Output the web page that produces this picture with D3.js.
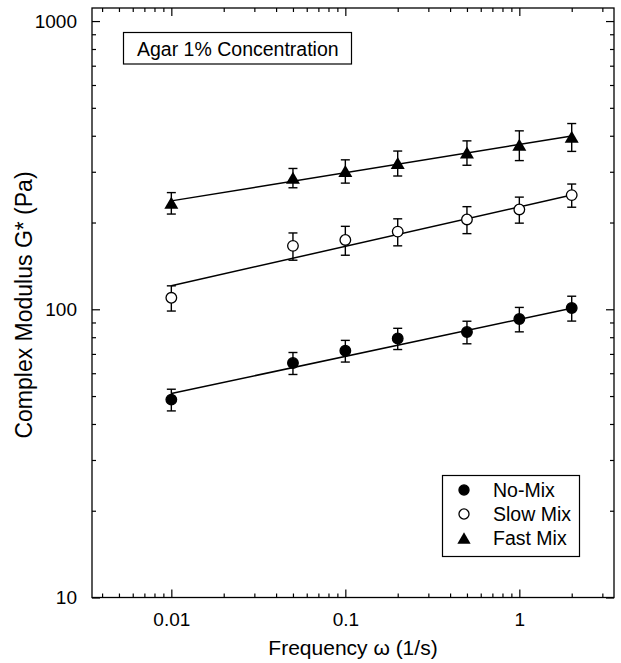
<!DOCTYPE html>
<html lang="en">
<head>
    <meta charset="UTF-8">
    <title>Complex modulus vs frequency</title>
    <script src="https://d3js.org/d3.v7.min.js"></script>
    <style>
        body{ margin:0; background:#fff; }
        svg{ display:block; font-family: "Liberation Sans", Arial, sans-serif; }
    </style>
</head>
<body>
<svg width="621" height="663"></svg>
<script>
    // data
    const freq = [0.01, 0.05, 0.1, 0.2, 0.5, 1, 2];
    const noMix   = [48.6, 65.1, 71.8, 79.2, 83.4, 92.5, 101];
    const noMixErr = [4.2, 5.7, 6.2, 6.7, 7.5, 9, 10];
    const slowMix = [109.6, 166, 174, 186, 205, 222, 249];
    const slowMixErr = [11, 18, 20, 20, 22, 23, 23];
    const fastMix = [234, 286, 302, 322, 350, 372, 397];
    const fastMixErr = [20, 22, 28, 32, 34, 44, 44];
    // power-law fits G* = a * w^n
    const fitA = [92.3, 226.7, 373];
    const fitN = [0.1287, 0.137, 0.0978];
    const fitRange = [0.01, 2];
    const seriesNames = ["No-Mix", "Slow Mix", "Fast Mix"];
    const xTickLabels = ["0.01", "0.1", "1"];
    const yTickLabels = ["10", "100", "1000"];

    const svg = d3.select('svg');
    const m = {left: 92, right: 7, top: 8, bottom: 65.5};
    const W = 621, H = 663;

    const x = d3.scaleLog().domain([0.0035, 3.5]).range([m.left, W - m.right]);
    const y = d3.scaleLog().domain([10, 1110]).range([H - m.bottom, m.top]);

    const series = [
        {name: seriesNames[0], v: noMix, e: noMixErr, sym: 'fill'},
        {name: seriesNames[1], v: slowMix, e: slowMixErr, sym: 'open'},
        {name: seriesNames[2], v: fastMix, e: fastMixErr, sym: 'tri'}
    ];

    // ticks
    const xMajor = [0.01, 0.1, 1];
    const xMinor = [];
    [0.001, 0.01, 0.1, 1].forEach(d => { for (let k = 2; k <= 9; k++) xMinor.push(d * k); });
    const yMajor = [10, 100, 1000];
    const yMinor = [];
    [10, 100].forEach(d => { for (let k = 2; k <= 9; k++) yMinor.push(d * k); });
    const xMin = xMinor.filter(d => d > x.domain()[0] && d < x.domain()[1]);

    const fmt = (labels, vals) => (d => labels[vals.indexOf(d)]);

    function ax(gen, tr, vals, len, labels) {
        const a = gen.tickValues(vals).tickSizeInner(-len).tickSizeOuter(0).tickPadding(len + 7);
        a.tickFormat(labels ? fmt(labels, vals) : () => '');
        const g = svg.append('g').attr('transform', tr).call(a);
        g.select('.domain').remove();
        g.selectAll('line').attr('stroke', '#000').attr('stroke-width', 1.2);
        g.selectAll('text').attr('font-size', 19).attr('fill', '#000').attr('font-family', null);
        return g;
    }
    const trBot = `translate(0,${H - m.bottom})`, trTop = `translate(0,${m.top})`;
    const trLft = `translate(${m.left},0)`, trRgt = `translate(${W - m.right},0)`;
    ax(d3.axisBottom(x), trBot, xMajor, 8, xTickLabels);
    ax(d3.axisBottom(x), trBot, xMin, 4);
    ax(d3.axisTop(x), trTop, xMajor, 8);
    ax(d3.axisTop(x), trTop, xMin, 4);
    ax(d3.axisLeft(y), trLft, yMajor, 8, yTickLabels);
    ax(d3.axisLeft(y), trLft, yMinor, 4);
    ax(d3.axisRight(y), trRgt, yMajor, 8);
    ax(d3.axisRight(y), trRgt, yMinor, 4);

    svg.append('rect')
        .attr('x', m.left).attr('y', m.top)
        .attr('width', W - m.left - m.right).attr('height', H - m.top - m.bottom)
        .attr('fill', 'none').attr('stroke', '#000').attr('stroke-width', 1.3);

    // axis titles
    svg.append('text').attr('x', (m.left + W - m.right) / 2).attr('y', 655)
        .attr('text-anchor', 'middle').attr('font-size', 21)
        .text('Frequency \u03c9 (1/s)');
    svg.append('text')
        .attr('transform', `translate(32,305) rotate(-90)`)
        .attr('text-anchor', 'middle').attr('font-size', 23)
        .text('Complex Modulus G* (Pa)');

    // fit lines
    const line = d3.line().x(d => x(d[0])).y(d => y(d[1]));
    fitA.forEach((a, i) => {
        svg.append('path')
            .attr('d', line(fitRange.map(w => [w, a * Math.pow(w, fitN[i])])))
            .attr('stroke', '#000').attr('stroke-width', 1.5).attr('fill', 'none');
    });

    function marker(g, sym, cx, cy, s) {
        if (sym === 'tri') {
            const w = 14 * s, h = 12 * s;
            g.append('path')
                .attr('d', `M${cx},${cy - h / 2}L${cx + w / 2},${cy + h / 2}L${cx - w / 2},${cy + h / 2}Z`)
                .attr('fill', '#000');
        } else {
            g.append('circle').attr('cx', cx).attr('cy', cy).attr('r', 5.3 * s)
                .attr('fill', sym === 'fill' ? '#000' : '#fff')
                .attr('stroke', '#000').attr('stroke-width', 1.3);
        }
    }

    // error bars and markers
    series.forEach(s => {
        const g = svg.append('g');
        s.v.forEach((v, i) => {
            const cx = x(freq[i]), y1 = y(v + s.e[i]), y0 = y(v - s.e[i]);
            g.append('line').attr('x1', cx).attr('x2', cx).attr('y1', y1).attr('y2', y0)
                .attr('stroke', '#000').attr('stroke-width', 1.4);
            [y0, y1].forEach(yy => g.append('line')
                .attr('x1', cx - 4.5).attr('x2', cx + 4.5).attr('y1', yy).attr('y2', yy)
                .attr('stroke', '#000').attr('stroke-width', 1.4));
        });
        s.v.forEach((v, i) => marker(g, s.sym, x(freq[i]), y(v), 1));
    });

    // title box
    svg.append('rect').attr('x', 123.5).attr('y', 32.5).attr('width', 228).attr('height', 31.5)
        .attr('fill', '#fff').attr('stroke', '#000').attr('stroke-width', 1.2);
    svg.append('text').attr('x', 137).attr('y', 55.5).attr('font-size', 19.5)
        .text('Agar 1% Concentration');

    // legend
    svg.append('rect').attr('x', 442.5).attr('y', 475.5).attr('width', 137).attr('height', 81)
        .attr('fill', '#fff').attr('stroke', '#000').attr('stroke-width', 1.2);
    series.forEach((s, i) => {
        const yy = 490 + i * 24;
        const g = svg.append('g');
        marker(g, s.sym, 464, yy, 0.95);
        g.append('text').attr('x', 493).attr('y', yy + 7).attr('font-size', 19.5).text(s.name);
    });
</script>
</body>
</html>
